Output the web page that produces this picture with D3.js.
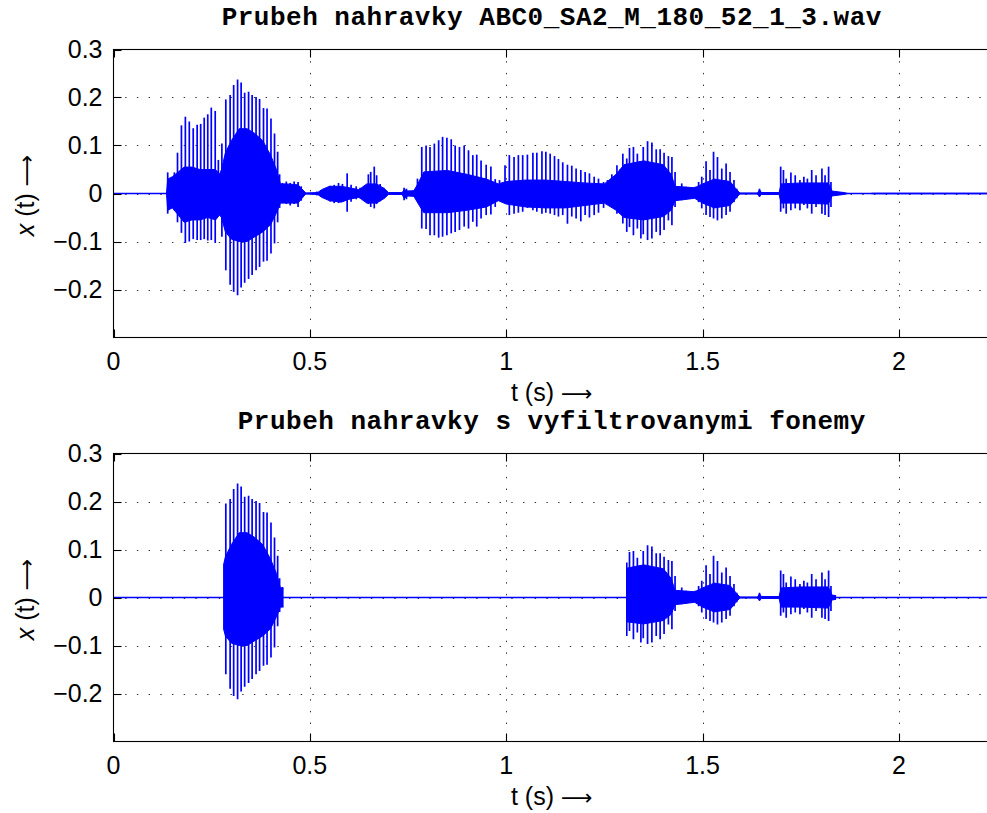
<!DOCTYPE html>
<html><head><meta charset="utf-8">
<script src="https://cdn.jsdelivr.net/npm/d3@7/dist/d3.min.js"></script>
<style>body{margin:0;background:#fff}</style>
</head><body>
<svg id="chart" width="987" height="813"></svg>
<script>
// ---------------- DATA ----------------
const titles = ["Prubeh nahravky ABC0_SA2_M_180_52_1_3.wav", "Prubeh nahravky s vyfiltrovanymi fonemy"];
const xTicks = [0, 0.5, 1, 1.5, 2];
const xTickLabels = ["0", "0.5", "1", "1.5", "2"];
const yTicks = [0.3, 0.2, 0.1, 0, -0.1, -0.2];
const yTickLabels = ["0.3", "0.2", "0.1", "0", "\u22120.1", "\u22120.2"];
const duration = 2.232;       // s, length of recording shown
const yDomain = [-0.3, 0.3];

// pitch-pulse peaks of the waveform: time (s), positive peak, negative peak
const spikeT = [
  0.138,0.146,0.155,0.163,0.173,0.183,0.193,0.203,0.213,0.222,0.231,0.240,0.249,0.259,0.267,
  0.276,0.286,0.297,0.306,0.316,0.325,0.334,0.344,0.353,0.363,0.372,0.382,0.391,0.401,0.410,0.418,0.423,
  0.430,0.440,0.450,0.460,0.470,0.478,
  0.518,0.540,0.552,0.562,0.573,0.583,0.595,0.605,0.618,0.628,0.637,0.649,0.655,0.664,0.670,0.679,0.688,
  0.740,0.746,0.752,
  0.774,0.785,0.796,0.806,0.817,0.828,0.838,0.849,0.860,0.870,0.881,0.893,0.904,0.915,0.925,0.936,0.949,0.961,0.972,0.983,
  0.997,1.008,1.020,1.031,1.042,1.054,1.068,1.078,1.091,1.101,1.112,1.123,1.133,1.144,1.156,1.167,1.178,1.190,1.201,1.212,1.224,1.235,1.248,1.258,
  1.269,1.282,1.290,1.297,1.307,1.314,1.324,1.334,1.343,1.349,1.360,1.371,1.382,1.392,1.402,1.413,1.422,1.430,
  1.447,1.458,1.468,1.481,
  1.490,1.498,1.509,1.519,1.528,1.538,1.549,1.560,1.570,1.580,1.587,
  1.645,
  1.699,1.706,1.713,1.725,1.736,1.748,1.758,1.767,1.778,1.789,1.804,1.812,1.821,1.827
];
const spikeHi = [
  0.044,0.030,0.044,0.085,0.142,0.160,0.150,0.136,0.143,0.145,0.158,0.165,0.179,0.172,0.070,
  0.104,0.196,0.205,0.226,0.2375,0.231,0.210,0.212,0.205,0.201,0.197,0.178,0.177,0.156,0.125,0.087,0.040,
  0.022,0.025,0.022,0.025,0.024,0.015,
  0.004,0.010,0.016,0.018,0.022,0.020,0.042,0.018,0.015,0.012,0.014,0.040,0.045,0.056,0.038,0.020,0.012,
  0.012,0.010,0.006,
  0.031,0.097,0.100,0.097,0.104,0.111,0.118,0.116,0.113,0.100,0.097,0.100,0.090,0.080,0.081,0.069,0.060,0.056,0.030,0.028,
  0.059,0.080,0.076,0.080,0.080,0.081,0.085,0.085,0.088,0.087,0.083,0.078,0.072,0.065,0.060,0.058,0.052,0.049,0.045,0.042,0.035,0.031,0.024,0.028,
  0.040,0.059,0.050,0.083,0.073,0.095,0.097,0.083,0.066,0.097,0.109,0.106,0.092,0.092,0.085,0.078,0.076,0.045,
  0.021,0.014,0.010,0.014,
  0.024,0.035,0.067,0.049,0.087,0.076,0.052,0.0625,0.045,0.028,0.010,
  0.010,
  0.056,0.049,0.031,0.044,0.038,0.028,0.035,0.031,0.049,0.038,0.052,0.038,0.056,0.024
];
const spikeLo = [
  -0.042,-0.030,-0.035,-0.060,-0.082,-0.103,-0.100,-0.095,-0.097,-0.097,-0.095,-0.098,-0.097,-0.103,-0.045,
  -0.090,-0.160,-0.190,-0.205,-0.212,-0.196,-0.186,-0.178,-0.170,-0.160,-0.153,-0.142,-0.140,-0.125,-0.104,-0.060,-0.030,
  -0.020,-0.022,-0.025,-0.022,-0.028,-0.015,
  -0.004,-0.008,-0.017,-0.020,-0.020,-0.017,-0.038,-0.017,-0.012,-0.010,-0.015,-0.022,-0.028,-0.031,-0.022,-0.016,-0.010,
  -0.014,-0.012,-0.006,
  -0.014,-0.073,-0.074,-0.087,-0.087,-0.092,-0.090,-0.087,-0.083,-0.080,-0.076,-0.069,-0.073,-0.059,-0.069,-0.052,-0.045,-0.044,-0.028,-0.014,
  -0.017,-0.045,-0.042,-0.040,-0.038,-0.030,-0.035,-0.038,-0.042,-0.040,-0.042,-0.045,-0.048,-0.045,-0.063,-0.048,-0.052,-0.058,-0.045,-0.050,-0.045,-0.040,-0.030,-0.021,
  -0.025,-0.042,-0.035,-0.0625,-0.080,-0.070,-0.087,-0.073,-0.094,-0.085,-0.097,-0.094,-0.080,-0.087,-0.076,-0.056,-0.066,-0.028,
  -0.014,-0.012,-0.010,-0.010,
  -0.018,-0.031,-0.045,-0.049,-0.052,-0.056,-0.052,-0.045,-0.038,-0.018,-0.010,
  -0.007,
  -0.038,-0.031,-0.042,-0.035,-0.031,-0.035,-0.024,-0.031,-0.042,-0.028,-0.042,-0.045,-0.049,-0.028
];

// dense inner envelope of the waveform: time (s), upper, lower
const coreT = [0.000,0.135,0.138,0.150,0.165,0.180,0.200,0.220,0.240,0.260,0.270,0.275,0.285,0.300,0.320,0.340,0.360,0.380,0.400,0.415,0.425,0.440,0.470,0.485,0.490,
  0.520,0.530,0.550,0.580,0.600,0.625,0.645,0.670,0.690,0.700,0.735,0.740,0.750,0.765,0.775,0.790,0.850,0.900,0.950,0.980,
  1.000,1.050,1.100,1.150,1.200,1.250,1.280,1.300,1.350,1.400,1.420,1.430,1.480,1.500,1.530,1.570,1.585,1.595,
  1.640,1.645,1.650,1.695,1.700,1.750,1.820,1.830,1.860,1.870];
const coreHi = [0,0,0.030,0.035,0.045,0.055,0.055,0.050,0.050,0.050,0.040,0.050,0.085,0.110,0.135,0.135,0.125,0.110,0.080,0.050,0.020,0.020,0.018,0.005,0.001,
  0.002,0.008,0.015,0.015,0.012,0.008,0.020,0.020,0.010,0.002,0.002,0.008,0.005,0.006,0.020,0.045,0.048,0.040,0.030,0.020,
  0.025,0.028,0.028,0.025,0.022,0.020,0.040,0.060,0.068,0.060,0.040,0.015,0.012,0.020,0.030,0.025,0.010,0.001,
  0.001,0.008,0.002,0.002,0.020,0.022,0.022,0.005,0.002,0];
const coreLo = [0,0,-0.035,-0.030,-0.045,-0.060,-0.055,-0.055,-0.050,-0.055,-0.045,-0.050,-0.080,-0.095,-0.100,-0.100,-0.090,-0.080,-0.065,-0.040,-0.020,-0.020,-0.020,-0.005,-0.001,
  -0.002,-0.008,-0.015,-0.018,-0.012,-0.008,-0.020,-0.020,-0.010,-0.002,-0.002,-0.010,-0.005,-0.006,-0.020,-0.040,-0.040,-0.035,-0.028,-0.015,
  -0.022,-0.028,-0.030,-0.030,-0.025,-0.020,-0.035,-0.050,-0.055,-0.048,-0.035,-0.015,-0.010,-0.020,-0.030,-0.025,-0.010,-0.001,
  -0.001,-0.006,-0.002,-0.002,-0.020,-0.020,-0.022,-0.005,-0.002,0];

// low background noise at the end of the recording
const noiseStart = [1.93];
const noiseEnd = [2.232];
const noiseAmp = [0.0016];

// time windows kept in the filtered recording (lower panel)
const keepStart = [0.279, 1.305];
const keepEnd = [0.433, 1.840];

// ---------------- DRAWING ----------------
const svg = d3.select("#chart");
const W = 987, H = 813;
svg.append("rect").attr("width", W).attr("height", H).attr("fill", "#fff");

const left = 113.5, right = 990;
const panels = [{top: 49.5, bottom: 337.5, title: titles[0], filtered: false},
                {top: 453.5, bottom: 741.5, title: titles[1], filtered: true}];
const x = d3.scaleLinear().domain([0, duration]).range([left, right]);
const blue = "#0000ff";
const tickFont = "'Liberation Sans', Arial, Helvetica, sans-serif";
const arrowFont = "'DejaVu Sans', sans-serif";

panels.forEach((p, pi) => {
  const y = d3.scaleLinear().domain(yDomain).range([p.bottom, p.top]);
  const g = svg.append("g");

  // grid (dotted)
  const grid = g.append("g").attr("stroke", "#333").attr("stroke-width", 1).attr("stroke-dasharray", "1.4,10.3");
  yTicks.filter(v => v !== yDomain[1]).forEach(v => {
    grid.append("line").attr("x1", left).attr("x2", right).attr("y1", Math.round(y(v)) + 0.5).attr("y2", Math.round(y(v)) + 0.5);
  });
  xTicks.filter(v => v !== 0).forEach(v => {
    grid.append("line").attr("y1", p.top).attr("y2", p.bottom).attr("x1", Math.round(x(v)) + 0.5).attr("x2", Math.round(x(v)) + 0.5);
  });

  // signal
  const sig = g.append("g");
  if (p.filtered) {
    const cid = "keep" + pi;
    const cp = svg.append("defs").append("clipPath").attr("id", cid);
    keepStart.forEach((s, i) => {
      cp.append("rect").attr("x", x(s)).attr("width", x(keepEnd[i]) - x(s)).attr("y", p.top).attr("height", p.bottom - p.top);
    });
    sig.attr("clip-path", `url(#${cid})`);
  }
  // baseline (zero signal)
  g.insert("line", () => sig.node()).attr("x1", x(0)).attr("x2", x(duration)).attr("y1", y(0)).attr("y2", y(0))
    .attr("stroke", blue).attr("stroke-width", 1.3);

  const core = coreT.map((t, i) => ({t, hi: coreHi[i], lo: coreLo[i]}));
  const area = d3.area().x(d => x(d.t)).y0(d => y(d.lo)).y1(d => y(d.hi));
  sig.append("path").datum(core).attr("d", area).attr("fill", blue).attr("stroke", blue).attr("stroke-width", 1);

  const spikes = spikeT.map((t, i) => ({t, hi: spikeHi[i], lo: spikeLo[i]}));
  sig.selectAll("line.spike").data(spikes).join("line").attr("class", "spike")
    .attr("x1", d => x(d.t)).attr("x2", d => x(d.t))
    .attr("y1", d => y(d.hi)).attr("y2", d => y(d.lo))
    .attr("stroke", blue).attr("stroke-width", 1.7);

  if (!p.filtered) {
    noiseStart.forEach((s, i) => {
      sig.append("rect").attr("x", x(s)).attr("width", x(noiseEnd[i]) - x(s))
        .attr("y", y(noiseAmp[i])).attr("height", y(-noiseAmp[i]) - y(noiseAmp[i])).attr("fill", blue);
    });
  }

  // axes box
  const ax = g.append("g").attr("stroke", "#000").attr("stroke-width", 1.1).attr("fill", "none");
  ax.append("rect").attr("x", left).attr("y", p.top).attr("width", right + 20 - left).attr("height", p.bottom - p.top);
  const tl = 8;
  xTicks.forEach(v => {
    const xx = Math.round(x(v)) + 0.5;
    ax.append("line").attr("x1", xx).attr("x2", xx).attr("y1", p.bottom).attr("y2", p.bottom - tl);
    ax.append("line").attr("x1", xx).attr("x2", xx).attr("y1", p.top).attr("y2", p.top + tl);
  });
  yTicks.forEach(v => {
    const yy = Math.round(y(v)) + 0.5;
    ax.append("line").attr("x1", left).attr("x2", left + tl).attr("y1", yy).attr("y2", yy);
  });

  // tick labels
  const lab = g.append("g").attr("font-family", tickFont).attr("font-size", 25).attr("fill", "#000");
  xTicks.forEach((v, i) => {
    lab.append("text").attr("x", x(v)).attr("y", p.bottom + 32.5).attr("text-anchor", "middle").text(xTickLabels[i]);
  });
  yTicks.forEach((v, i) => {
    lab.append("text").attr("x", left - 11).attr("y", y(v) + 8.8).attr("text-anchor", "end").text(yTickLabels[i]);
  });

  // axis labels
  const cx = (left + right) / 2;
  const xl = lab.append("text").attr("x", cx).attr("y", p.bottom + 63).attr("text-anchor", "middle");
  xl.append("tspan").text("t (s) ");
  xl.append("tspan").attr("font-family", arrowFont).attr("font-size", 22).text("\u27F6");
  const ylab = lab.append("text").attr("transform", `translate(34,${(p.top + p.bottom) / 2 + 2}) rotate(-90)`).attr("text-anchor", "middle");
  ylab.append("tspan").attr("font-style", "italic").text("x");
  ylab.append("tspan").text(" (t) ");
  ylab.append("tspan").attr("font-family", arrowFont).attr("font-size", 22).text("\u27F6");

  // title
  g.append("text").attr("x", cx).attr("y", p.top - 24.5).attr("text-anchor", "middle")
    .attr("font-family", "'Liberation Mono', 'Courier New', Courier, monospace").attr("font-weight", "bold")
    .attr("font-size", 26).attr("letter-spacing", 0.5).attr("fill", "#000").text(p.title);
});
</script>
</body></html>
